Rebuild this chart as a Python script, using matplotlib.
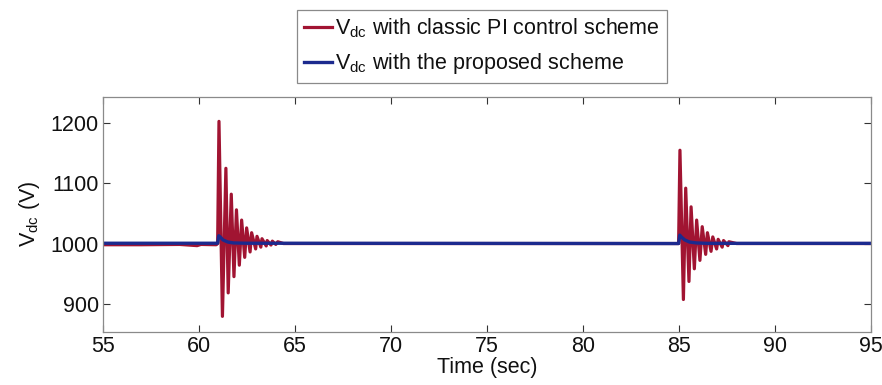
import matplotlib
matplotlib.use("Agg")
import matplotlib.pyplot as plt

plt.rcParams['font.family'] = ['Liberation Sans', 'DejaVu Sans']
plt.rcParams['mathtext.fontset'] = 'custom'
plt.rcParams['mathtext.rm'] = 'Liberation Sans'
plt.rcParams['mathtext.it'] = 'Liberation Sans'

# ---- data ----
classic_t = [55.0, 57.0, 59.0, 59.9, 60.1, 60.9, 60.97,
             61.04, 61.22, 61.40, 61.52, 61.68, 61.82, 61.95, 62.10,
             62.22, 62.38, 62.48, 62.66, 62.74, 62.95, 63.02, 63.22,
             63.28, 63.50, 63.55, 63.75, 63.82, 64.00, 64.10, 64.40,
             70.0, 84.9, 84.98,
             85.05, 85.23, 85.35, 85.52, 85.63, 85.80, 85.92, 86.09,
             86.21, 86.39, 86.48, 86.67, 86.76, 86.96, 87.04, 87.25,
             87.32, 87.55, 87.60, 88.00, 95.0]
classic_v = [998.0, 998.0, 998.5, 996.5, 998.5, 998.0, 1000.0,
             1203, 879, 1125, 918, 1082, 945, 1056, 964,
             1039, 977, 1026, 986, 1018, 991, 1012, 994,
             1008, 996, 1005, 997.5, 1004, 998.5, 1003, 1000,
             1000, 1000, 1000,
             1155, 907, 1092, 937, 1061, 958, 1039, 972,
             1028, 982, 1018, 987, 1011, 991, 1007, 994,
             1005, 996.5, 1003, 1000, 1000]

proposed_t = [55.0, 60.97, 61.03, 61.10, 61.25, 61.50, 61.80, 62.50,
              84.98, 85.04, 85.12, 85.30, 85.55, 85.90, 86.50, 95.0]
proposed_v = [1000.5, 1000.5, 1013, 1011, 1006, 1002.5, 1001, 1000.5,
              1000.0, 1014, 1011, 1006, 1002.5, 1001, 1000.3, 1000.3]

x_ticks = [55, 60, 65, 70, 75, 80, 85, 90, 95]
y_ticks = [900, 1000, 1100, 1200]

label_classic = r'$\mathrm{V_{dc}}$ with classic PI control scheme'
label_proposed = r'$\mathrm{V_{dc}}$ with the proposed scheme'

red = '#A11432'
blue = '#1C2A8E'

fig = plt.figure(figsize=(8.82, 3.85), dpi=100)
ax = fig.add_axes([0.1168, 0.1377, 0.8707, 0.6111])

l1, = ax.plot(classic_t, classic_v, color=red, lw=2.3, label=label_classic)
l2, = ax.plot(proposed_t, proposed_v, color=blue, lw=2.4, label=label_proposed)

ax.set_xlim(55, 95)
ax.set_ylim(853, 1244)
ax.set_xticks(x_ticks)
ax.set_yticks(y_ticks)
ax.tick_params(direction='in', top=True, right=True, length=5, width=0.8,
               labelsize=15.5, colors='#333333', labelcolor='#111111', pad=3)
for s in ax.spines.values():
    s.set_color('#8a8a8a')
    s.set_linewidth(0.9)

ax.set_xlabel('Time (sec)', fontsize=15.5, labelpad=0, color='#111111')
ax.set_ylabel(r'$\mathrm{V_{dc}}$ (V)', fontsize=15.5, labelpad=6, color='#111111')

leg = fig.legend(handles=[l1, l2], loc='upper left',
                 bbox_to_anchor=(0.3367, 0.974), fontsize=15.5,
                 frameon=True, fancybox=False, framealpha=1,
                 edgecolor='#8a8a8a', handlelength=1.3, handletextpad=0.15,
                 borderpad=0.32, labelspacing=0.5, borderaxespad=0)
leg.get_frame().set_linewidth(0.9)
for t in leg.get_texts():
    t.set_color('#111111')

fig.savefig('out.png', dpi=100)
